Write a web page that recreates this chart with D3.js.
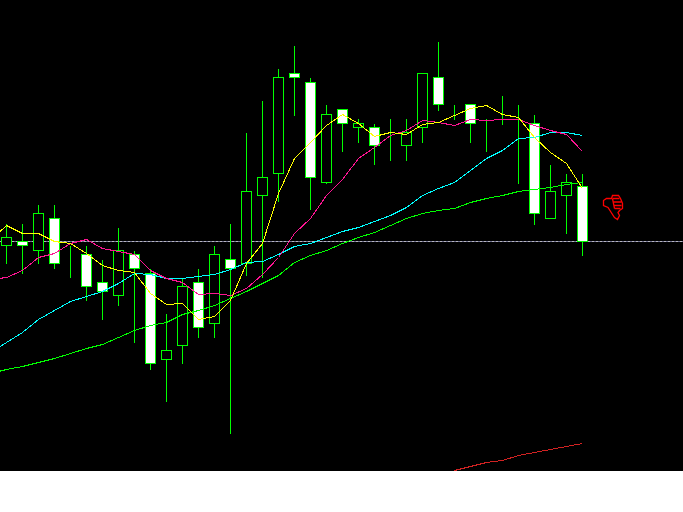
<!DOCTYPE html>
<html>
<head>
<meta charset="utf-8">
<style>
  html, body { margin: 0; padding: 0; background: #fff; }
  svg { display: block; }
</style>
</head>
<body>
<div id="chart"></div>
<script src="https://cdn.jsdelivr.net/npm/d3@7"></script>
<script>
// No price axis in the picture, so values are points above the bottom of the plot.
// Bars
const highs = [248,248,267,267,226,226,212,244,221,203,158,194,203,226,248,339,371,403,426,394,367,362,353,348,353,353,398,430,367,367,353,376,367,357,307,298,298];
const lows = [208,198,208,203,194,171,152,166,129,102,70,108,134,134,38,196,194,270,356,262,288,320,329,307,311,311,329,361,352,329,320,347,288,247,253,238,216];
const opens = [226,230,221,253,212,217,189,176,217,198,112,126,189,148,212,208,276,298,398,389,289,362,344,344,321,326,344,394,362,367,353,357,353,348,253,276,285];
const closes = [234,226,258,208,212,185,180,221,203,108,121,185,144,217,203,280,294,394,394,294,357,348,348,326,321,339,398,367,362,348,353,357,353,258,280,289,230];

// Moving averages, first value belongs to the bar before the left edge
const maFast = [231,246,238,238,230,228,218,206,201,199,178,167,168,152,155,171,208,228,278,313,329,346,357,348,335,339,337,347,349,356,363,366,357,354,334,319,308,283];
const maMid = [192,194,201,214,218,228,232,223,220,217,201,193,189,177,178,176,183,197,214,238,253,276,292,313,324,336,341,351,349,346,352,351,352,352,346,341,337,320];
const maSlow = [119,129,139,152,161,170,175,180,188,198,197,193,193,195,197,202,209,210,217,225,228,234,240,244,250,256,264,276,283,289,301,313,321,333,334,339,339,336];
const maLong = [98,102,105,109,113,118,123,127,134,141,146,149,157,161,166,173,180,188,196,209,216,221,228,234,239,246,253,258,261,263,269,273,276,280,282,284,287,289];

// Red line at the bottom, from bar 28 on
const lowerStart = 28;
const lowerLine = [1,5,9,11,16,19,22,25,28];

const priceLevel = 230;

const width = 683, height = 512, plotHeight = 471;

const svg = d3.select("#chart").append("svg")
    .attr("width", width)
    .attr("height", height)
    .style("background", "#fff");

svg.append("rect")
    .attr("width", width)
    .attr("height", plotHeight)
    .attr("fill", "#000");

const plot = svg.append("g").attr("shape-rendering", "crispEdges");

const x = d3.scaleLinear().domain([0, highs.length - 1]).range([6.5, 582.5]);
const y = d3.scaleLinear().domain([0, plotHeight]).range([plotHeight + 0.5, 0.5]);

// Current price line, blue-grey with lighter dots on top
plot.append("line")
    .attr("x1", 0)
    .attr("x2", width)
    .attr("y1", y(priceLevel))
    .attr("y2", y(priceLevel))
    .attr("stroke", "#707090");
plot.append("line")
    .attr("x1", 0)
    .attr("x2", width)
    .attr("y1", y(priceLevel))
    .attr("y2", y(priceLevel))
    .attr("stroke", "#b8b8c0")
    .attr("stroke-dasharray", "2,2");

// Candles
const bars = plot.selectAll("g.bar")
    .data(highs.map((h, i) => i))
    .join("g")
    .attr("class", "bar");

bars.append("line")
    .attr("x1", i => x(i))
    .attr("x2", i => x(i))
    .attr("y1", i => y(highs[i]))
    .attr("y2", i => y(lows[i]))
    .attr("stroke", "#00ff00");

bars.append("rect")
    .attr("x", i => x(i) - 5)
    .attr("width", 10)
    .attr("y", i => y(Math.max(opens[i], closes[i])))
    .attr("height", i => Math.abs(opens[i] - closes[i]))
    .attr("fill", i => closes[i] < opens[i] ? "#fff" : "#000")
    .attr("stroke", "#00ff00");

// Moving averages
const line = d3.line()
    .x((d, i) => x(i - 1))
    .y(d => y(d));

[[maLong, "#00ff00"], [maSlow, "#00ffff"], [maMid, "#ff1493"], [maFast, "#ffff00"]].forEach(function(s) {
    plot.append("path")
        .attr("d", line(s[0]))
        .attr("fill", "none")
        .attr("stroke", s[1]);
});

plot.append("path")
    .attr("d", d3.line().x((d, i) => x(i + lowerStart)).y(d => y(d))(lowerLine))
    .attr("fill", "none")
    .attr("stroke", "#d22222");

// Thumbs down arrow next to the last bar
const arrow = svg.append("g")
    .attr("transform", "translate(" + (x(highs.length - 1) + 21) + "," + y(276) + ")")
    .attr("fill", "none")
    .attr("stroke", "#ff0000")
    .attr("stroke-width", 1.3);

arrow.append("path")
    .attr("d", "M0 5 L3 3 L8 3 L9 0 L15 0 L17 3 L19 8 L19 13 L16 15 L14.5 17 L16 20 L14 24 L11 22 L4.5 12 L0 10 Z");
arrow.append("path")
    .attr("d", "M9 3 L16 3 M10 6.5 L18 6.5 M11 10 L18 10 M11 13 L17 13 M9 3 L11 13");
</script>
</body>
</html>
